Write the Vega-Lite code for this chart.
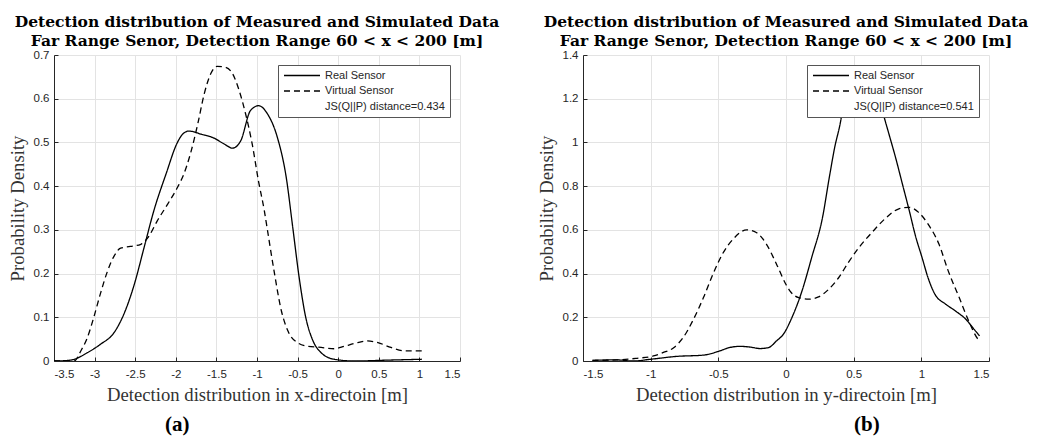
{
  "$schema": "https://vega.github.io/schema/vega-lite/v6.json",
  "padding": {"left": 8, "top": 14, "right": 5, "bottom": 5},
  "background": "white",
  "config": {
    "view": {"stroke": null},
    "axis": {
      "grid": true,
      "gridColor": "#e3e3e3",
      "gridWidth": 1,
      "domainColor": "#262626",
      "domainWidth": 1,
      "tickColor": "#262626",
      "tickSize": -4,
      "labelPadding": 9,
      "labelFont": "Liberation Sans",
      "labelFontSize": 11.5,
      "labelColor": "#262626",
      "titleFont": "Liberation Serif",
      "titleFontSize": 18.7,
      "titleFontWeight": "normal",
      "titleColor": "#333333"
    },
    "axisX": {"labelPadding": 11, "titlePadding": 6},
    "legend": {
      "orient": "top-right",
      "offset": 10,
      "fillColor": "white",
      "strokeColor": "#555555",
      "padding": 5,
      "cornerRadius": 0,
      "labelFont": "Liberation Sans",
      "labelFontSize": 11,
      "labelColor": "#262626",
      "labelOffset": 31,
      "symbolSize": 81,
      "symbolStrokeWidth": 1.3,
      "symbolType": "M-1,0H7",
      "rowPadding": 3.5
    },
    "title": {
      "font": "DejaVu Serif",
      "fontSize": 15.5,
      "fontWeight": "bold",
      "color": "#000000",
      "lineHeight": 19
    }
  },
  "datasets": {
    "a": [
      {"x": -3.5, "y": 0, "series": "Real Sensor"},
      {"x": -3.35, "y": 0.001, "series": "Real Sensor"},
      {"x": -3.25, "y": 0.004, "series": "Real Sensor"},
      {"x": -3.09, "y": 0.019, "series": "Real Sensor"},
      {"x": -2.93, "y": 0.038, "series": "Real Sensor"},
      {"x": -2.76, "y": 0.065, "series": "Real Sensor"},
      {"x": -2.64, "y": 0.107, "series": "Real Sensor"},
      {"x": -2.51, "y": 0.176, "series": "Real Sensor"},
      {"x": -2.39, "y": 0.26, "series": "Real Sensor"},
      {"x": -2.27, "y": 0.344, "series": "Real Sensor"},
      {"x": -2.12, "y": 0.428, "series": "Real Sensor"},
      {"x": -1.98, "y": 0.5, "series": "Real Sensor"},
      {"x": -1.91, "y": 0.52, "series": "Real Sensor"},
      {"x": -1.84, "y": 0.526, "series": "Real Sensor"},
      {"x": -1.69, "y": 0.519, "series": "Real Sensor"},
      {"x": -1.53, "y": 0.51, "series": "Real Sensor"},
      {"x": -1.41, "y": 0.497, "series": "Real Sensor"},
      {"x": -1.3, "y": 0.487, "series": "Real Sensor"},
      {"x": -1.2, "y": 0.504, "series": "Real Sensor"},
      {"x": -1.08, "y": 0.573, "series": "Real Sensor"},
      {"x": -0.98, "y": 0.584, "series": "Real Sensor"},
      {"x": -0.87, "y": 0.565, "series": "Real Sensor"},
      {"x": -0.75, "y": 0.512, "series": "Real Sensor"},
      {"x": -0.64, "y": 0.42, "series": "Real Sensor"},
      {"x": -0.56, "y": 0.306, "series": "Real Sensor"},
      {"x": -0.48, "y": 0.19, "series": "Real Sensor"},
      {"x": -0.4, "y": 0.1, "series": "Real Sensor"},
      {"x": -0.31, "y": 0.046, "series": "Real Sensor"},
      {"x": -0.21, "y": 0.019, "series": "Real Sensor"},
      {"x": -0.05, "y": 0.004, "series": "Real Sensor"},
      {"x": 0.2, "y": 0.0, "series": "Real Sensor"},
      {"x": 0.61, "y": 0.002, "series": "Real Sensor"},
      {"x": 1.03, "y": 0.004, "series": "Real Sensor"},
      {"x": -3.5, "y": 0, "series": "Virtual Sensor"},
      {"x": -3.25, "y": 0.0, "series": "Virtual Sensor"},
      {"x": -3.17, "y": 0.023, "series": "Virtual Sensor"},
      {"x": -3.09, "y": 0.053, "series": "Virtual Sensor"},
      {"x": -3.01, "y": 0.1, "series": "Virtual Sensor"},
      {"x": -2.93, "y": 0.153, "series": "Virtual Sensor"},
      {"x": -2.84, "y": 0.206, "series": "Virtual Sensor"},
      {"x": -2.76, "y": 0.24, "series": "Virtual Sensor"},
      {"x": -2.68, "y": 0.258, "series": "Virtual Sensor"},
      {"x": -2.56, "y": 0.262, "series": "Virtual Sensor"},
      {"x": -2.43, "y": 0.267, "series": "Virtual Sensor"},
      {"x": -2.33, "y": 0.286, "series": "Virtual Sensor"},
      {"x": -2.23, "y": 0.32, "series": "Virtual Sensor"},
      {"x": -2.1, "y": 0.359, "series": "Virtual Sensor"},
      {"x": -1.98, "y": 0.397, "series": "Virtual Sensor"},
      {"x": -1.9, "y": 0.428, "series": "Virtual Sensor"},
      {"x": -1.82, "y": 0.474, "series": "Virtual Sensor"},
      {"x": -1.73, "y": 0.542, "series": "Virtual Sensor"},
      {"x": -1.65, "y": 0.611, "series": "Virtual Sensor"},
      {"x": -1.57, "y": 0.657, "series": "Virtual Sensor"},
      {"x": -1.49, "y": 0.674, "series": "Virtual Sensor"},
      {"x": -1.39, "y": 0.672, "series": "Virtual Sensor"},
      {"x": -1.3, "y": 0.657, "series": "Virtual Sensor"},
      {"x": -1.22, "y": 0.619, "series": "Virtual Sensor"},
      {"x": -1.14, "y": 0.565, "series": "Virtual Sensor"},
      {"x": -1.06, "y": 0.497, "series": "Virtual Sensor"},
      {"x": -0.98, "y": 0.41, "series": "Virtual Sensor"},
      {"x": -0.91, "y": 0.344, "series": "Virtual Sensor"},
      {"x": -0.87, "y": 0.298, "series": "Virtual Sensor"},
      {"x": -0.79, "y": 0.206, "series": "Virtual Sensor"},
      {"x": -0.7, "y": 0.115, "series": "Virtual Sensor"},
      {"x": -0.62, "y": 0.069, "series": "Virtual Sensor"},
      {"x": -0.5, "y": 0.042, "series": "Virtual Sensor"},
      {"x": -0.38, "y": 0.034, "series": "Virtual Sensor"},
      {"x": -0.21, "y": 0.031, "series": "Virtual Sensor"},
      {"x": -0.05, "y": 0.028, "series": "Virtual Sensor"},
      {"x": 0.08, "y": 0.034, "series": "Virtual Sensor"},
      {"x": 0.2, "y": 0.04, "series": "Virtual Sensor"},
      {"x": 0.36, "y": 0.046, "series": "Virtual Sensor"},
      {"x": 0.49, "y": 0.042, "series": "Virtual Sensor"},
      {"x": 0.65, "y": 0.031, "series": "Virtual Sensor"},
      {"x": 0.82, "y": 0.023, "series": "Virtual Sensor"},
      {"x": 1.05, "y": 0.023, "series": "Virtual Sensor"}
    ],
    "b": [
      {"x": -1.43, "y": 0.003, "series": "Real Sensor"},
      {"x": -1.25, "y": 0.005, "series": "Real Sensor"},
      {"x": -1.13, "y": 0.0, "series": "Real Sensor"},
      {"x": -1.0, "y": 0.008, "series": "Real Sensor"},
      {"x": -0.81, "y": 0.021, "series": "Real Sensor"},
      {"x": -0.61, "y": 0.027, "series": "Real Sensor"},
      {"x": -0.49, "y": 0.046, "series": "Real Sensor"},
      {"x": -0.42, "y": 0.061, "series": "Real Sensor"},
      {"x": -0.34, "y": 0.067, "series": "Real Sensor"},
      {"x": -0.27, "y": 0.064, "series": "Real Sensor"},
      {"x": -0.19, "y": 0.057, "series": "Real Sensor"},
      {"x": -0.13, "y": 0.061, "series": "Real Sensor"},
      {"x": -0.07, "y": 0.092, "series": "Real Sensor"},
      {"x": -0.02, "y": 0.122, "series": "Real Sensor"},
      {"x": 0.044, "y": 0.199, "series": "Real Sensor"},
      {"x": 0.118, "y": 0.32, "series": "Real Sensor"},
      {"x": 0.19, "y": 0.474, "series": "Real Sensor"},
      {"x": 0.27, "y": 0.657, "series": "Real Sensor"},
      {"x": 0.32, "y": 0.84, "series": "Real Sensor"},
      {"x": 0.36, "y": 0.978, "series": "Real Sensor"},
      {"x": 0.4, "y": 1.085, "series": "Real Sensor"},
      {"x": 0.43, "y": 1.19, "series": "Real Sensor"},
      {"x": 0.48, "y": 1.27, "series": "Real Sensor"},
      {"x": 0.53, "y": 1.32, "series": "Real Sensor"},
      {"x": 0.58, "y": 1.34, "series": "Real Sensor"},
      {"x": 0.63, "y": 1.31, "series": "Real Sensor"},
      {"x": 0.68, "y": 1.23, "series": "Real Sensor"},
      {"x": 0.72, "y": 1.128, "series": "Real Sensor"},
      {"x": 0.76, "y": 1.04, "series": "Real Sensor"},
      {"x": 0.81, "y": 0.93, "series": "Real Sensor"},
      {"x": 0.86, "y": 0.81, "series": "Real Sensor"},
      {"x": 0.91, "y": 0.69, "series": "Real Sensor"},
      {"x": 0.96, "y": 0.565, "series": "Real Sensor"},
      {"x": 1.005, "y": 0.474, "series": "Real Sensor"},
      {"x": 1.05, "y": 0.38, "series": "Real Sensor"},
      {"x": 1.1, "y": 0.306, "series": "Real Sensor"},
      {"x": 1.18, "y": 0.26, "series": "Real Sensor"},
      {"x": 1.25, "y": 0.23, "series": "Real Sensor"},
      {"x": 1.33, "y": 0.19, "series": "Real Sensor"},
      {"x": 1.39, "y": 0.145, "series": "Real Sensor"},
      {"x": 1.43, "y": 0.115, "series": "Real Sensor"},
      {"x": -1.43, "y": 0.003, "series": "Virtual Sensor"},
      {"x": -1.25, "y": 0.005, "series": "Virtual Sensor"},
      {"x": -1.11, "y": 0.012, "series": "Virtual Sensor"},
      {"x": -0.98, "y": 0.023, "series": "Virtual Sensor"},
      {"x": -0.91, "y": 0.038, "series": "Virtual Sensor"},
      {"x": -0.83, "y": 0.061, "series": "Virtual Sensor"},
      {"x": -0.76, "y": 0.107, "series": "Virtual Sensor"},
      {"x": -0.69, "y": 0.183, "series": "Virtual Sensor"},
      {"x": -0.61, "y": 0.29, "series": "Virtual Sensor"},
      {"x": -0.54, "y": 0.397, "series": "Virtual Sensor"},
      {"x": -0.47, "y": 0.489, "series": "Virtual Sensor"},
      {"x": -0.39, "y": 0.558, "series": "Virtual Sensor"},
      {"x": -0.29, "y": 0.6, "series": "Virtual Sensor"},
      {"x": -0.22, "y": 0.588, "series": "Virtual Sensor"},
      {"x": -0.145, "y": 0.535, "series": "Virtual Sensor"},
      {"x": -0.07, "y": 0.443, "series": "Virtual Sensor"},
      {"x": 0.0, "y": 0.35, "series": "Virtual Sensor"},
      {"x": 0.03, "y": 0.32, "series": "Virtual Sensor"},
      {"x": 0.094, "y": 0.29, "series": "Virtual Sensor"},
      {"x": 0.17, "y": 0.283, "series": "Virtual Sensor"},
      {"x": 0.24, "y": 0.293, "series": "Virtual Sensor"},
      {"x": 0.315, "y": 0.328, "series": "Virtual Sensor"},
      {"x": 0.39, "y": 0.382, "series": "Virtual Sensor"},
      {"x": 0.46, "y": 0.45, "series": "Virtual Sensor"},
      {"x": 0.54, "y": 0.52, "series": "Virtual Sensor"},
      {"x": 0.635, "y": 0.588, "series": "Virtual Sensor"},
      {"x": 0.73, "y": 0.65, "series": "Virtual Sensor"},
      {"x": 0.83, "y": 0.695, "series": "Virtual Sensor"},
      {"x": 0.91, "y": 0.703, "series": "Virtual Sensor"},
      {"x": 0.98, "y": 0.68, "series": "Virtual Sensor"},
      {"x": 1.05, "y": 0.626, "series": "Virtual Sensor"},
      {"x": 1.13, "y": 0.535, "series": "Virtual Sensor"},
      {"x": 1.2, "y": 0.41, "series": "Virtual Sensor"},
      {"x": 1.28, "y": 0.29, "series": "Virtual Sensor"},
      {"x": 1.35, "y": 0.183, "series": "Virtual Sensor"},
      {"x": 1.42, "y": 0.099, "series": "Virtual Sensor"},
      {"x": 1.436, "y": 0.09, "series": "Virtual Sensor"}
    ]
  },
  "resolve": {
    "scale": {"color": "independent", "strokeDash": "independent"},
    "legend": {"color": "independent", "strokeDash": "independent"}
  },
  "spacing": 37,
  "hconcat": [
    {
      "title": {"text": "(a)", "orient": "bottom", "anchor": "start", "dx": 157, "offset": 10, "fontSize": 21, "font": "Liberation Serif", "fontWeight": "bold"},
      "resolve": {
        "scale": {"color": "independent", "strokeDash": "independent"},
        "legend": {"color": "independent", "strokeDash": "independent"}
      },
      "vconcat": [
        {
          "width": 406,
          "height": 306,
          "title": {"text": ["Detection distribution of Measured and Simulated Data", "Far Range Senor, Detection Range 60 < x < 200 [m]"], "anchor": "middle", "frame": "group", "offset": 0},
          "data": {"name": "a"},
          "mark": {"type": "line", "interpolate": "monotone", "strokeWidth": 1.3, "clip": true},
          "encoding": {
            "x": {"field": "x", "type": "quantitative", "scale": {"domain": [-3.5, 1.5], "nice": false, "zero": false},
              "axis": {"values": [-3.5, -3, -2.5, -2, -1.5, -1, -0.5, 0, 0.5, 1, 1.5], "labelExpr": "toString(datum.value)", "title": "Detection distribution in x-directoin [m]"}},
            "y": {"field": "y", "type": "quantitative", "scale": {"domain": [0, 0.7], "nice": false},
              "axis": {"values": [0, 0.1, 0.2, 0.3, 0.4, 0.5, 0.6, 0.7], "labelExpr": "toString(datum.value)", "title": "Probability Density", "titlePadding": 6}},
            "color": {"field": "series", "type": "nominal",
              "scale": {"domain": ["Real Sensor", "Virtual Sensor", "JS(Q||P) distance=0.434"], "range": ["#000000", "#000000", "rgba(0,0,0,0)"]},
              "legend": {"title": null}},
            "strokeDash": {"field": "series", "type": "nominal",
              "scale": {"domain": ["Real Sensor", "Virtual Sensor", "JS(Q||P) distance=0.434"], "range": [[1, 0], [6, 4], [1, 0]]},
              "legend": {"title": null}}
          }
        }
      ]
    },
    {
      "title": {"text": "(b)", "orient": "bottom", "anchor": "start", "dx": 317, "offset": 10, "fontSize": 21, "font": "Liberation Serif", "fontWeight": "bold"},
      "resolve": {
        "scale": {"color": "independent", "strokeDash": "independent"},
        "legend": {"color": "independent", "strokeDash": "independent"}
      },
      "vconcat": [
        {
          "width": 406,
          "height": 306,
          "title": {"text": ["Detection distribution of Measured and Simulated Data", "Far Range Senor, Detection Range 60 < x < 200 [m]"], "anchor": "middle", "frame": "group", "offset": 0},
          "data": {"name": "b"},
          "mark": {"type": "line", "interpolate": "monotone", "strokeWidth": 1.3, "clip": true},
          "encoding": {
            "x": {"field": "x", "type": "quantitative", "scale": {"domain": [-1.5, 1.5], "nice": false, "zero": false},
              "axis": {"values": [-1.5, -1, -0.5, 0, 0.5, 1, 1.5], "labelExpr": "toString(datum.value)", "title": "Detection distribution in y-directoin [m]"}},
            "y": {"field": "y", "type": "quantitative", "scale": {"domain": [0, 1.4], "nice": false},
              "axis": {"values": [0, 0.2, 0.4, 0.6, 0.8, 1, 1.2, 1.4], "labelExpr": "toString(datum.value)", "title": "Probability Density", "titlePadding": 6}},
            "color": {"field": "series", "type": "nominal",
              "scale": {"domain": ["Real Sensor", "Virtual Sensor", "JS(Q||P) distance=0.541"], "range": ["#000000", "#000000", "rgba(0,0,0,0)"]},
              "legend": {"title": null}},
            "strokeDash": {"field": "series", "type": "nominal",
              "scale": {"domain": ["Real Sensor", "Virtual Sensor", "JS(Q||P) distance=0.541"], "range": [[1, 0], [6, 4], [1, 0]]},
              "legend": {"title": null}}
          }
        }
      ]
    }
  ]
}
